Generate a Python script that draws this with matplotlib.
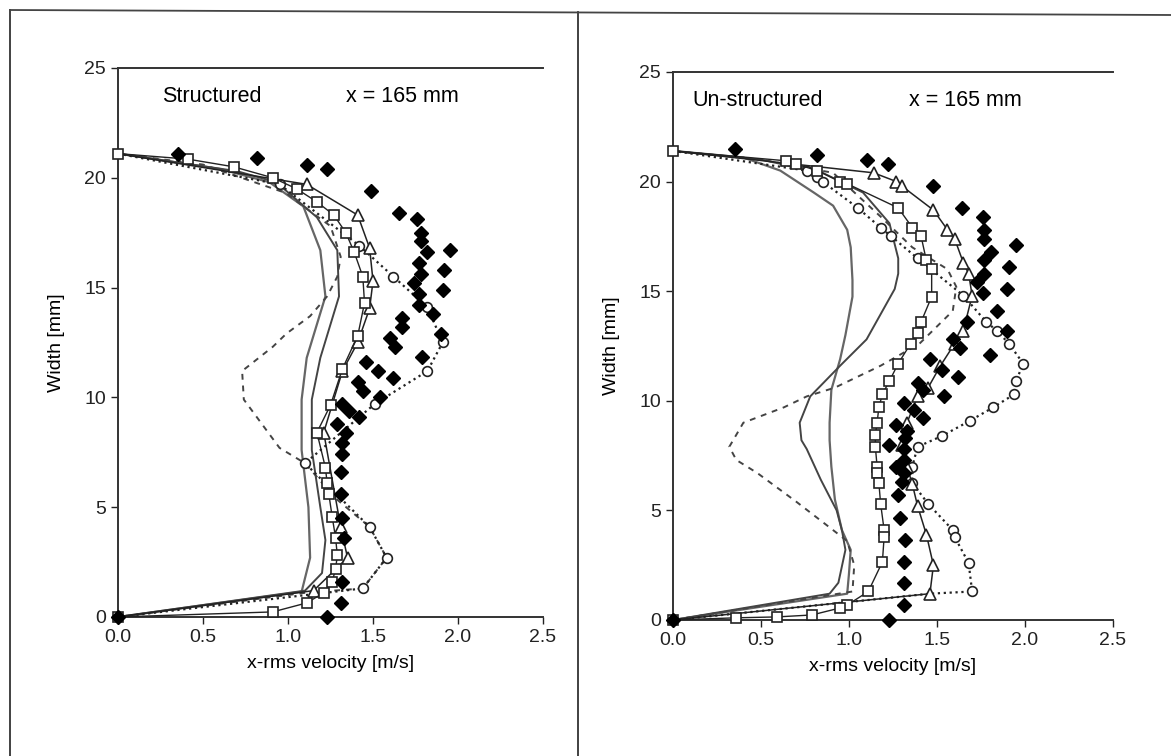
import matplotlib
matplotlib.use("Agg")
import matplotlib.pyplot as plt
from matplotlib.lines import Line2D

plt.rcParams['font.family'] = ['Liberation Sans', 'DejaVu Sans']

# ---- Structured (left panel) ----
s_sq_x = [0.0, 0.41, 0.68, 0.91, 1.05, 1.17, 1.27, 1.34, 1.39, 1.44, 1.45, 1.41, 1.32, 1.25, 1.17,
          1.22, 1.23, 1.24, 1.26, 1.28, 1.29, 1.28, 1.26, 1.21, 1.11, 0.91, 0.0]
s_sq_y = [21.1, 20.85, 20.5, 20.0, 19.5, 18.9, 18.3, 17.5, 16.6, 15.5, 14.3, 12.8, 11.3, 9.65, 8.4,
          6.8, 6.1, 5.6, 4.55, 3.6, 2.8, 2.2, 1.6, 1.1, 0.64, 0.23, 0.0]

s_tri_x = [0.0, 1.11, 1.41, 1.48, 1.50, 1.48, 1.41, 1.32, 1.21, 1.31, 1.35, 1.15, 0.0]
s_tri_y = [21.1, 19.7, 18.3, 16.8, 15.3, 14.05, 12.5, 11.2, 8.4, 4.1, 2.7, 1.2, 0.0]

s_circ_x = [0.0, 0.95, 1.42, 1.62, 1.82, 1.91, 1.82, 1.51, 1.10, 1.48, 1.58, 1.44, 0.0]
s_circ_y = [21.1, 19.7, 16.9, 15.5, 14.1, 12.5, 11.2, 9.7, 7.0, 4.1, 2.7, 1.3, 0.0]

s_dash_x = [0.0, 0.5, 0.99, 1.09, 1.25, 1.31, 1.29, 1.23, 1.13, 0.99, 0.91, 0.73, 0.74, 0.95,
            1.10, 1.28, 1.48, 1.58, 1.44, 1.10, 0.0]
s_dash_y = [21.1, 20.6, 19.3, 18.7, 17.8, 16.4, 15.5, 14.6, 13.7, 12.9, 12.3, 11.2, 9.9, 7.7,
            7.0, 5.4, 4.1, 2.7, 1.3, 1.1, 0.0]

s_solid_a_x = [0.0, 0.6, 0.89, 1.09, 1.19, 1.22, 1.11, 1.08, 1.08, 1.12, 1.13, 1.08, 0.0]
s_solid_a_y = [21.1, 20.4, 19.8, 18.7, 16.7, 14.6, 11.8, 9.9, 7.6, 5.0, 2.7, 1.15, 0.0]

s_solid_b_x = [0.0, 0.7, 0.93, 1.17, 1.29, 1.30, 1.19, 1.14, 1.14, 1.19, 1.22, 1.20, 1.10, 0.0]
s_solid_b_y = [21.1, 20.3, 19.8, 18.2, 16.7, 14.6, 11.8, 9.9, 7.6, 5.0, 3.5, 2.0, 1.2, 0.0]

s_dia_x = [0.35, 0.82, 1.11, 1.23, 1.49, 1.65, 1.76, 1.78, 1.78, 1.82, 1.95, 1.77, 1.92, 1.78,
           1.74, 1.91, 1.77, 1.77, 1.85, 1.67, 1.67, 1.90, 1.60, 1.63, 1.79, 1.46, 1.53, 1.62,
           1.41, 1.44, 1.54, 1.32, 1.36, 1.42, 1.29, 1.34, 1.32, 1.32, 1.31, 1.31, 1.32, 1.33,
           1.32, 1.31, 1.23, 0.0]
s_dia_y = [21.1, 20.9, 20.6, 20.4, 19.4, 18.4, 18.1, 17.5, 17.1, 16.6, 16.7, 16.1, 15.8, 15.6,
           15.2, 14.9, 14.7, 14.2, 13.8, 13.6, 13.2, 12.9, 12.7, 12.3, 11.85, 11.6, 11.2, 10.9,
           10.7, 10.3, 10.0, 9.7, 9.4, 9.1, 8.8, 8.4, 7.9, 7.4, 6.6, 5.6, 4.5, 3.6,
           1.6, 0.64, 0.0, 0.0]

# ---- Un-structured (right panel) ----
u_sq_x = [0.0, 0.64, 0.70, 0.82, 0.95, 0.99, 1.28, 1.36, 1.41, 1.44, 1.47, 1.47, 1.41, 1.39,
          1.35, 1.28, 1.23, 1.19, 1.17, 1.16, 1.15, 1.15, 1.16, 1.16, 1.17, 1.18, 1.20, 1.20,
          1.19, 1.11, 0.99, 0.95, 0.79, 0.59, 0.36, 0.0]
u_sq_y = [21.4, 20.95, 20.8, 20.5, 20.0, 19.9, 18.8, 17.9, 17.5, 16.4, 16.0, 14.75, 13.6, 13.1,
          12.6, 11.7, 10.9, 10.3, 9.7, 9.0, 8.45, 7.9, 7.0, 6.7, 6.25, 5.3, 4.1, 3.8,
          2.65, 1.3, 0.68, 0.55, 0.23, 0.14, 0.1, 0.0]

u_tri_x = [0.0, 1.14, 1.27, 1.30, 1.48, 1.56, 1.60, 1.65, 1.68, 1.70, 1.65, 1.60, 1.52, 1.45,
           1.39, 1.33, 1.30, 1.33, 1.36, 1.39, 1.44, 1.48, 1.46, 0.0]
u_tri_y = [21.4, 20.4, 20.0, 19.8, 18.7, 17.8, 17.4, 16.3, 15.8, 14.8, 13.2, 12.6, 11.6, 10.6,
           10.2, 9.0, 8.0, 7.0, 6.2, 5.2, 3.9, 2.5, 1.2, 0.0]

u_circ_x = [0.0, 0.76, 0.82, 0.85, 1.05, 1.18, 1.24, 1.39, 1.65, 1.78, 1.84, 1.91, 1.99, 1.95,
            1.94, 1.82, 1.69, 1.53, 1.39, 1.36, 1.36, 1.45, 1.59, 1.60, 1.68, 1.70, 1.46, 0.0]
u_circ_y = [21.4, 20.5, 20.2, 20.0, 18.8, 17.9, 17.5, 16.5, 14.8, 13.6, 13.2, 12.6, 11.7, 10.9,
            10.3, 9.7, 9.1, 8.4, 7.9, 7.0, 6.25, 5.3, 4.1, 3.8, 2.6, 1.3, 1.2, 0.0]

u_dash_x = [0.0, 0.5, 0.91, 1.18, 1.36, 1.56, 1.61, 1.59, 1.40, 1.18, 0.92, 0.76, 0.63, 0.40,
            0.32, 0.36, 0.48, 0.70, 0.91, 0.99, 1.03, 1.02, 0.0]
u_dash_y = [21.4, 21.0, 20.4, 18.4, 17.0, 16.0, 15.2, 14.1, 12.6, 11.6, 10.6, 10.2, 9.7, 9.0,
            7.9, 7.3, 6.7, 5.4, 4.1, 3.6, 2.5, 1.3, 0.0]

u_solid_a_x = [0.0, 0.40, 0.61, 0.80, 0.91, 0.99, 1.01, 1.02, 1.02, 0.98, 0.95, 0.90, 0.89, 0.89,
               0.90, 0.92, 0.96, 1.01, 1.00, 0.99, 0.0]
u_solid_a_y = [21.4, 21.1, 20.5, 19.5, 18.9, 17.8, 17.0, 15.5, 14.75, 13.0, 11.9, 10.5, 9.0, 8.2,
               7.0, 5.5, 4.1, 3.2, 2.1, 1.2, 0.0]

u_solid_b_x = [0.0, 0.5, 0.85, 1.08, 1.23, 1.28, 1.28, 1.26, 1.10, 0.95, 0.78, 0.72, 0.73, 0.76,
               0.84, 0.93, 0.96, 0.98, 0.94, 0.89, 0.0]
u_solid_b_y = [21.4, 21.0, 20.4, 19.5, 18.1, 16.5, 15.8, 15.1, 12.8, 11.6, 10.2, 9.0, 8.2, 7.8,
               6.4, 5.0, 4.1, 3.2, 1.7, 1.2, 0.0]

u_dia_x = [0.35, 0.82, 1.10, 1.22, 1.48, 1.64, 1.76, 1.77, 1.77, 1.81, 1.95, 1.77, 1.91, 1.77,
           1.73, 1.90, 1.76, 1.84, 1.90, 1.67, 1.59, 1.63, 1.80, 1.46, 1.53, 1.62, 1.39, 1.42,
           1.54, 1.31, 1.37, 1.42, 1.27, 1.33, 1.32, 1.23, 1.31, 1.31, 1.27, 1.31, 1.30, 1.28,
           1.29, 1.32, 1.31, 1.31, 1.31, 1.23, 0.0]
u_dia_y = [21.5, 21.2, 21.0, 20.8, 19.8, 18.8, 18.4, 17.8, 17.4, 16.8, 17.1, 16.4, 16.1, 15.8,
           15.4, 15.1, 14.9, 14.1, 13.2, 13.6, 12.8, 12.4, 12.1, 11.9, 11.4, 11.1, 10.8, 10.5,
           10.2, 9.9, 9.6, 9.2, 8.9, 8.6, 8.3, 8.0, 7.8, 7.3, 7.0, 6.7, 6.3, 5.7,
           4.65, 3.65, 2.65, 1.7, 0.7, 0.0, 0.0]

panels = [
    ("Structured", s_sq_x, s_sq_y, s_tri_x, s_tri_y, s_circ_x, s_circ_y, s_dash_x, s_dash_y,
     s_solid_a_x, s_solid_a_y, s_solid_b_x, s_solid_b_y, s_dia_x, s_dia_y),
    ("Un-structured", u_sq_x, u_sq_y, u_tri_x, u_tri_y, u_circ_x, u_circ_y, u_dash_x, u_dash_y,
     u_solid_a_x, u_solid_a_y, u_solid_b_x, u_solid_b_y, u_dia_x, u_dia_y),
]
x_ticks = [0.0, 0.5, 1.0, 1.5, 2.0, 2.5]
y_ticks = [0, 5, 10, 15, 20, 25]

fig = plt.figure(figsize=(11.71, 7.56), dpi=100)
axes_pos = [[0.1008, 0.1839, 0.3629, 0.7262], [0.5747, 0.1799, 0.3757, 0.7249]]
label_x = [0.26, 0.11]

for i, p in enumerate(panels):
    (name, sqx, sqy, trx, try_, cx, cy, dx, dy, ax_, ay, bx, by, dix, diy) = p
    ax = fig.add_axes(axes_pos[i])
    ink = '#222222'
    ax.plot(ax_, ay, '-', color='#666666', lw=1.6, clip_on=False)
    ax.plot(bx, by, '-', color='#444444', lw=1.4, clip_on=False)
    ax.plot(dx, dy, '--', color='#444444', lw=1.4, dashes=(3, 3), clip_on=False)
    ax.plot(cx, cy, ':', color=ink, lw=1.6, marker='o', ms=7, mfc='white', mec=ink, mew=1.2,
            markevery=list(range(1, len(cx) - 2 + (i == 0))), clip_on=False)
    ax.plot(sqx, sqy, '-', color=ink, lw=1.0, marker='s', ms=7.5, mfc='white', mec=ink, mew=1.2,
            clip_on=False, zorder=3)
    ax.plot(trx, try_, '-', color=ink, lw=1.1, marker='^', ms=8, mfc='white', mec=ink, mew=1.2,
            markevery=list(range(1, len(trx) - 1)), clip_on=False)
    ax.plot(dix, diy, 'D', color='black', ms=7, mec='black', ls='none', clip_on=False, zorder=4)

    ax.set_xlim(0, 2.5)
    ax.set_ylim(0, 25)
    ax.set_xticks(x_ticks)
    ax.set_xticklabels(['%.1f' % t for t in x_ticks])
    ax.set_yticks(y_ticks)
    ax.tick_params(direction='out', length=5, width=1.0, labelsize=14, colors='#222222')
    ax.tick_params(axis='x', pad=4)
    ax.spines['right'].set_visible(False)
    for sp in ['left', 'bottom', 'top']:
        ax.spines[sp].set_linewidth(1.4)
        ax.spines[sp].set_color('#333333')
    ax.set_xlabel('x-rms velocity [m/s]', fontsize=14, labelpad=6)
    ax.set_ylabel('Width [mm]', fontsize=14, labelpad=14)
    ax.text(label_x[i], 23.7, name, fontsize=15.5, va='center')
    ax.text(1.34, 23.7, 'x = 165 mm', fontsize=15.5, va='center')

# scanned page frame
fig.add_artist(Line2D([10 / 1171, 10 / 1171], [0, 1 - 10 / 756], transform=fig.transFigure,
                      color='#333333', lw=1.3))
fig.add_artist(Line2D([578 / 1171, 578 / 1171], [0, 1 - 12 / 756], transform=fig.transFigure,
                      color='#333333', lw=1.3))
fig.add_artist(Line2D([10 / 1171, 1], [1 - 10 / 756, 1 - 15 / 756], transform=fig.transFigure,
                      color='#444444', lw=1.3))

fig.savefig('out.png', dpi=100)
